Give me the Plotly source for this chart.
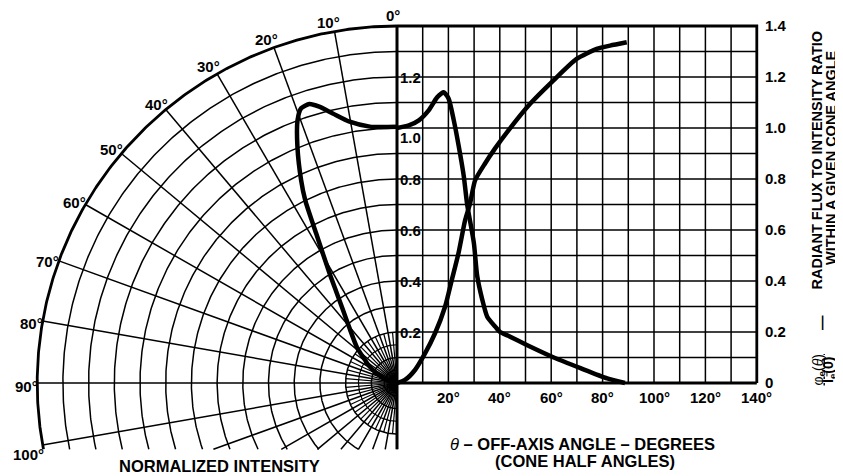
import numpy as np
import plotly.graph_objects as go

# ---------------- data ----------------
# Normalized intensity, polar plot (left)
polar_angle_deg = [0, 6, 10.2, 13.3, 15.6, 17.3, 19.1, 20.6, 22.7, 25.1, 26.5, 28.2,
                   31.4, 33.4, 36.3, 40.7, 48, 58.9, 64.5, 75, 88]
polar_intensity = [1.005, 1.011, 1.041, 1.086, 1.125, 1.146, 1.14, 1.10, 1.004, 0.88,
                   0.80, 0.666, 0.504, 0.43, 0.355, 0.283, 0.21, 0.124, 0.088, 0.04, 0.0]

# Normalized intensity vs off-axis angle (right, cartesian)
cart_angle_deg = [0, 4.6, 8.5, 12.4, 15.6, 18.2, 20.1, 22.1, 24, 26, 27.3, 29.9, 31.2,
                  33.1, 35.1, 38.3, 40.1, 43.3, 50.5, 61, 71.4, 81.8, 88.7]
cart_intensity = [1.0, 1.01, 1.03, 1.07, 1.12, 1.14, 1.115, 1.03, 0.93, 0.81, 0.70, 0.55,
                  0.42, 0.33, 0.26, 0.22, 0.20, 0.185, 0.149, 0.10, 0.058, 0.018, 0.0]

# Radiant flux to intensity ratio within a cone half angle
flux_angle_deg = [0, 3.1, 7.0, 10.9, 14.8, 18.7, 21.3, 23.9, 26.5, 28.4, 30.4, 34.2, 38.1,
                  43.3, 51.8, 60.8, 69.9, 77.7, 82.9, 89.4]
flux_ratio = [0, 0.012, 0.051, 0.116, 0.195, 0.299, 0.403, 0.508, 0.638, 0.703, 0.795,
              0.86, 0.919, 0.99, 1.095, 1.186, 1.271, 1.31, 1.323, 1.336]

# tick labels
polar_angle_ticks = [0, 10, 20, 30, 40, 50, 60, 70, 80, 90, 100]
polar_angle_labels = ["0°", "10°", "20°", "30°", "40°", "50°", "60°", "70°", "80°", "90°", "100°"]
inner_r_ticks = [0.2, 0.4, 0.6, 0.8, 1.0, 1.2]
inner_r_labels = ["0.2", "0.4", "0.6", "0.8", "1.0", "1.2"]
x_deg_ticks = [20, 40, 60, 80, 100, 120, 140]
x_deg_labels = ["20°", "40°", "60°", "80°", "100°", "120°", "140°"]
right_y_ticks = [0, 0.2, 0.4, 0.6, 0.8, 1.0, 1.2, 1.4]
right_y_labels = ["0", "0.2", "0.4", "0.6", "0.8", "1.0", "1.2", "1.4"]

# ---------------- geometry ----------------
W, H = 843, 476
OFF = 8                          # page body margin
POLE_PX, POLE_PY = 397 - OFF, 383 - OFF
SX, SY = 257.0, 255.0            # pixels per unit (0.1 unit = 10 deg)
XA, XB = -POLE_PX / SX, (W - POLE_PX) / SX
YT, YB = POLE_PY / SY, -(H - POLE_PY) / SY
RMAX = 1.4
YCLIP = -0.26


def px(xw):
    return (xw - OFF) / W


def py(yw):
    return 1 - (yw - OFF) / H


fig = go.Figure()


def add_line(xs, ys, width=1.5, xaxis="x"):
    fig.add_trace(go.Scatter(x=xs, y=ys, mode="lines", xaxis=xaxis, yaxis="y",
                             line=dict(color="black", width=width),
                             hoverinfo="skip", showlegend=False))


# polar circles
cx, cy = [], []
for k in range(1, 14):
    r = k * 0.1
    tmax = 180.0 if r <= -YCLIP else 90 + np.degrees(np.arcsin(-YCLIP / r))
    t = np.radians(np.linspace(0, tmax, 240))
    cx += list(-r * np.sin(t)) + [None]
    cy += list(r * np.cos(t)) + [None]
add_line(cx, cy, 1.5)

# fine inner circles near pole
fx, fy = [], []
for r in [0.05, 0.15]:
    t = np.radians(np.linspace(0, 180, 120))
    fx += list(-r * np.sin(t)) + [None]
    fy += list(r * np.cos(t)) + [None]
add_line(fx, fy, 1.2)

# radial lines every 10 deg
rx, ry = [], []
for a in range(10, 181, 10):
    t = np.radians(a)
    rend = RMAX if RMAX * np.cos(t) >= YCLIP else YCLIP / np.cos(t)
    rx += [0, -rend * np.sin(t), None]
    ry += [0, rend * np.cos(t), None]
add_line(rx, ry, 1.5)

# short radial lines near pole every 5 deg
sx, sy = [], []
for a in range(5, 180, 10):
    t = np.radians(a)
    rend = 0.2 if 0.2 * np.cos(t) >= YCLIP else YCLIP / np.cos(t)
    sx += [0, -rend * np.sin(t), None]
    sy += [0, rend * np.cos(t), None]
add_line(sx, sy, 1.2)

# outer heavy arc
tmax = 90 + np.degrees(np.arcsin(-YCLIP / RMAX))
t = np.radians(np.linspace(0, tmax, 300))
add_line(list(-RMAX * np.sin(t)), list(RMAX * np.cos(t)), 2.8)

# cartesian grid (right)
gx, gy = [], []
for k in range(1, 14):
    v = k * 0.1
    gx += [v, v, None]
    gy += [0, RMAX, None]
    gx += [0, RMAX, None]
    gy += [v, v, None]
add_line(gx, gy, 1.5)

# heavy frame
add_line([0, RMAX, RMAX], [RMAX, RMAX, 0], 2.8)
add_line([0, RMAX], [0, 0], 2.8)
add_line([0, 0], [YCLIP, RMAX], 3.0)

# ---------------- curves ----------------
pa = np.radians(polar_angle_deg)
pr = np.array(polar_intensity)
CURVE = dict(color="black", width=4.5, shape="spline", smoothing=0.6)
fig.add_trace(go.Scatter(x=-pr * np.sin(pa), y=pr * np.cos(pa), mode="lines", line=CURVE,
                         xaxis="x", yaxis="y", hoverinfo="skip", showlegend=False))
fig.add_trace(go.Scatter(x=cart_angle_deg, y=cart_intensity, mode="lines", line=CURVE,
                         xaxis="x2", yaxis="y", hoverinfo="skip", showlegend=False))
fig.add_trace(go.Scatter(x=flux_angle_deg, y=flux_ratio, mode="lines", line=CURVE,
                         xaxis="x2", yaxis="y", hoverinfo="skip", showlegend=False))

# ---------------- text ----------------
FONT = "Liberation Sans, Arial, sans-serif"
TICK = dict(family=FONT, size=15, color="black")
TITLE = dict(family=FONT, size=16.5, color="black")
RTITLE = dict(family=FONT, size=14.5, color="black")
ann = []
for a, lab in zip(polar_angle_ticks, polar_angle_labels):
    if a < 100:
        t, rl = np.radians(a + 0.6), 1.44
    else:
        t, rl = np.radians(a + 1.0), 1.46
    ann.append(dict(x=-rl * np.sin(t), y=rl * np.cos(t), xref="x", yref="y",
                    text="<b>%s</b>" % lab, showarrow=False,
                    xanchor="center", yanchor="middle", font=TICK))
for v, lab in zip(inner_r_ticks, inner_r_labels):
    ann.append(dict(x=0, y=v, xref="x", yref="y", text="<b>%s</b>" % lab,
                    showarrow=False, xanchor="left", yanchor="middle", xshift=1,
                    yshift=(-9 if abs(v - 1.0) < 1e-9 else 0), font=TICK))
for v, lab in zip(x_deg_ticks, x_deg_labels):
    ann.append(dict(x=v, y=0, xref="x2", yref="y", text="<b>%s</b>" % lab,
                    showarrow=False, xanchor="center", yanchor="middle", yshift=-14,
                    font=TICK))
for v, lab in zip(right_y_ticks, right_y_labels):
    ann.append(dict(x=140, y=v, xref="x2", yref="y", text="<b>%s</b>" % lab,
                    showarrow=False, xanchor="left", yanchor="middle", xshift=6, yshift=1,
                    font=TICK))


def label(xw, yw, text, font, angle=0):
    ann.append(dict(x=px(xw), y=py(yw), xref="paper", yref="paper", text=text,
                    showarrow=False, xanchor="center", yanchor="middle",
                    textangle=angle, font=font))


label(219, 466, "<b>NORMALIZED INTENSITY</b>", TITLE)
label(582, 444, "<i>θ</i><b> – OFF-AXIS ANGLE – DEGREES</b>", TITLE)
label(585, 461, "<b>(CONE HALF ANGLES)</b>", TITLE)
label(816.5, 160, "<b>RADIANT FLUX TO INTENSITY RATIO</b>", RTITLE, -90)
label(831.0, 158, "<b>WITHIN A GIVEN CONE ANGLE</b>", RTITLE, -90)
label(822, 323, "<b>—</b>", RTITLE, -90)
label(818.5, 370, "<u>φ<sub><b>e</b></sub>(<i>θ</i>)</u>",
      dict(family=FONT, size=14, color="black"), -90)
label(829, 370, "<b>I<sub>e</sub>(0)</b>",
      dict(family=FONT, size=14, color="black"), -90)

fig.update_layout(
    width=W, height=H, margin=dict(l=0, r=0, t=0, b=0, pad=0),
    paper_bgcolor="white", plot_bgcolor="white",
    xaxis=dict(range=[XA, XB], visible=False, fixedrange=True),
    xaxis2=dict(range=[XA * 100, XB * 100], overlaying="x", visible=False, fixedrange=True),
    yaxis=dict(range=[YB, YT], visible=False, fixedrange=True),
    annotations=ann, showlegend=False,
)

fig.write_html("out.html")
